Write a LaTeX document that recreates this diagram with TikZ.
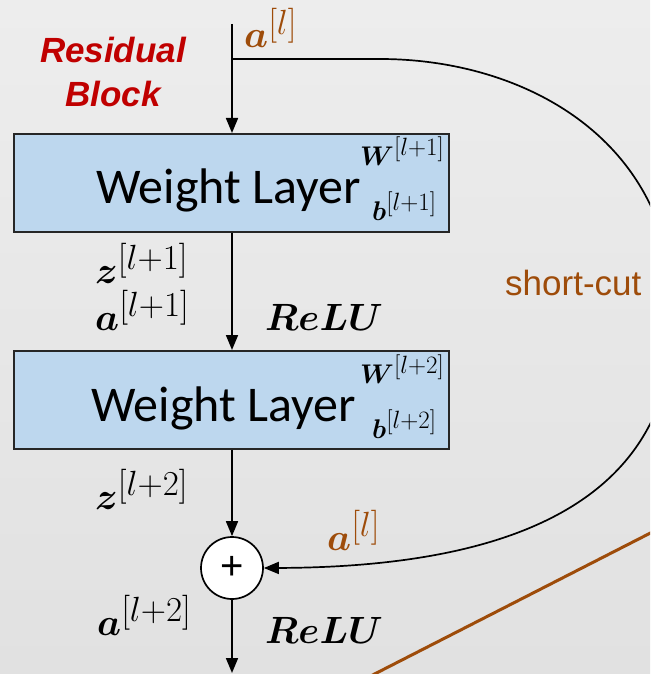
\RequirePackage{fix-cm}
\documentclass[tikz,border=0pt]{standalone}
\usepackage{fontspec}
\usepackage{bm}
\usetikzlibrary{arrows.meta}
\newfontfamily\calfont{Carlito}
\newfontfamily\arialfont{Liberation Sans}
\DeclareMathSizes{38}{38}{35}{26}
\DeclareMathSizes{27}{27}{25}{18}
\definecolor{bgtop}{HTML}{EDEDED}
\definecolor{bgbot}{HTML}{E1E1E1}
\definecolor{boxblue}{HTML}{BDD7EE}
\definecolor{brownc}{RGB}{158,76,10}
\definecolor{redc}{HTML}{C00000}
\definecolor{boxedge}{HTML}{262626}
\begin{document}
\begin{tikzpicture}[x=1pt,y=-1pt,
  wl/.style={draw=boxedge, line width=1.6pt, fill=boxblue, minimum width=435pt, minimum height=98pt, anchor=north west, inner sep=0pt},
  flow/.style={line width=1.7pt, -{Triangle[length=15pt,width=12pt]}},
  mlab/.style={anchor=base west, inner sep=0pt, font=\fontsize{38}{40}\selectfont},
  slab/.style={anchor=base west, inner sep=0pt, font=\fontsize{27}{30}\selectfont},
  wtext/.style={anchor=base west, inner sep=0pt, font=\calfont\fontsize{50}{54}\selectfont},
]
\useasboundingbox (0,0) rectangle (650,674);
\clip (0,0) rectangle (650,674);
\shade[top color=bgtop, bottom color=bgbot] (0,0) rectangle (650,674);

% boxes
\node[wl] (w1) at (13,133) {};
\node[wtext] (t1) at (96,203) {Weight Layer};
\node[slab] (W1) at (360,165) {$\bm{W}^{[l+1]}$};
\node[slab] (B1) at (372,220) {$\bm{b}^{[l+1]}$};

\node[wl] (w2) at (13,350) {};
\node[wtext] (t2) at (91,421) {Weight Layer};
\node[slab] (W2) at (360,383) {$\bm{W}^{[l+2]}$};
\node[slab] (B2) at (372,438) {$\bm{b}^{[l+2]}$};

\node[circle, draw, fill=white, line width=1.7pt, minimum size=62pt, inner sep=0pt, font=\arialfont\fontsize{40}{40}\selectfont] (plus) at (232,568) {+};

% connectors
\coordinate (top) at (232,24);
\coordinate (bot) at (232,673);
\coordinate (s) at (232,59);
\draw[flow] (top) -- (top |- w1.north);
\draw[flow] (top |- w1.south) -- (top |- w2.north);
\draw[flow] (top |- w2.south) -- (plus.north);
\draw[flow] (plus.south) -- (bot);
\draw[flow] (s) -- (380,59) .. controls (525,59) and (674,140) .. (674,315) .. controls (674,472) and (560,567) .. (plus.east);

% brown line
\coordinate (l1) at (355,684);
\coordinate (l2) at (670,523);
\draw[brownc, line width=3pt] (l1) -- (l2);

% labels
\node[mlab, text=brownc] (atop) at (244,48) {$\bm{a}^{[l]}$};
\node[mlab] (z1) at (95,283) {$\bm{z}^{[l+1]}$};
\node[mlab] (a1) at (95,330) {$\bm{a}^{[l+1]}$};
\node[mlab] (r1) at (265,330) {$\bm{ReLU}$};
\node[mlab] (z2) at (95,509) {$\bm{z}^{[l+2]}$};
\node[mlab] (a2) at (97,635) {$\bm{a}^{[l+2]}$};
\node[mlab] (r2) at (265,643) {$\bm{ReLU}$};
\node[mlab, text=brownc] (aside) at (327,550) {$\bm{a}^{[l]}$};
\node[anchor=base west, inner sep=0pt, text=brownc, font=\arialfont\fontsize{35}{40}\selectfont] (sc) at (505,295) {short-cut};
\node[align=center, text=redc, font=\arialfont\bfseries\itshape\fontsize{35}{44}\selectfont, inner sep=0pt] (rb) at (113,72) {Residual\\Block};
\end{tikzpicture}
\end{document}
